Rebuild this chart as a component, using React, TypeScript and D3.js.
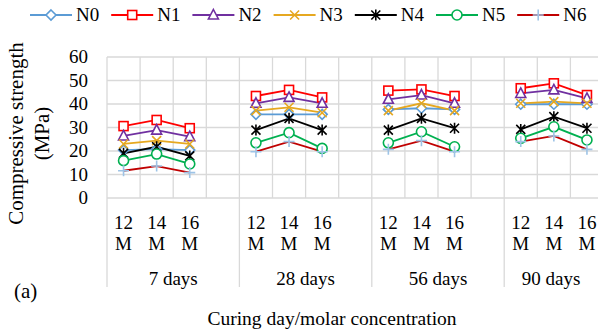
import React from "react";
import * as d3 from "d3";

const groups = ["7 days", "28 days", "56 days", "90 days"];
const molarities = ["12", "14", "16"];
const yTicks = [0, 10, 20, 30, 40, 50, 60];
const seriesNames = ["N0", "N1", "N2", "N3", "N4", "N5", "N6"];

const N0 = [20.4, 20.8, 20.4, 35.6, 35.6, 35.6, 37.7, 38.2, 37.7, 39.9, 39.9, 39.9];
const N1 = [30.6, 33.2, 29.7, 43.4, 46.0, 42.8, 45.7, 46.2, 43.4, 46.7, 48.8, 43.8];
const N2 = [26.4, 28.9, 26.1, 40.3, 42.8, 40.3, 42.0, 43.8, 40.3, 44.5, 46.0, 42.4];
const N3 = [23.0, 24.4, 23.0, 37.2, 38.6, 36.3, 37.2, 40.3, 37.2, 40.3, 41.0, 40.3];
const N4 = [19.0, 21.8, 17.9, 28.9, 33.9, 28.9, 28.9, 33.9, 29.7, 29.2, 34.6, 29.7];
const N5 = [15.9, 18.7, 14.5, 23.5, 27.8, 21.1, 23.5, 28.2, 21.8, 25.4, 30.3, 24.7];
const N6 = [11.6, 13.6, 10.8, 19.7, 24.0, 19.7, 20.7, 24.4, 19.7, 24.0, 26.4, 20.7];

const seriesValues = [N0, N1, N2, N3, N4, N5, N6];

const styles = [
  { line: "#5b9bd5", marker: "#5b9bd5", shape: "diamond" },
  { line: "#ff0000", marker: "#ff0000", shape: "square" },
  { line: "#7030a0", marker: "#7030a0", shape: "triangle" },
  { line: "#e6a820", marker: "#e6a820", shape: "x" },
  { line: "#000000", marker: "#000000", shape: "star" },
  { line: "#00b050", marker: "#00b050", shape: "circle" },
  { line: "#c00000", marker: "#9dc3e6", shape: "plus" },
];

const FONT = "Liberation Serif";
const GRID = "#d9d9d9";
const txt = { fontFamily: FONT };

function Marker({ shape, color, x, y }: { shape: string; color: string; x: number; y: number }) {
  const sw = 1.6;
  switch (shape) {
    case "diamond":
      return <path d={`M${x},${y - 5}L${x + 5},${y}L${x},${y + 5}L${x - 5},${y}Z`} fill="#fff" stroke={color} strokeWidth={sw} />;
    case "square":
      return <rect x={x - 4.5} y={y - 4.5} width={9} height={9} fill="#fff" stroke={color} strokeWidth={sw} />;
    case "triangle":
      return <path d={`M${x},${y - 5.5}L${x + 5},${y + 4}L${x - 5},${y + 4}Z`} fill="#fff" stroke={color} strokeWidth={sw} />;
    case "x":
      return <path d={`M${x - 4.5},${y - 4.5}L${x + 4.5},${y + 4.5}M${x - 4.5},${y + 4.5}L${x + 4.5},${y - 4.5}`} stroke={color} strokeWidth={sw} />;
    case "star":
      return <path d={`M${x - 4.5},${y - 4.5}L${x + 4.5},${y + 4.5}M${x - 4.5},${y + 4.5}L${x + 4.5},${y - 4.5}M${x},${y - 5.5}L${x},${y + 5.5}`} stroke={color} strokeWidth={sw} />;
    case "circle":
      return <circle cx={x} cy={y} r={5} fill="#fff" stroke={color} strokeWidth={sw} />;
    case "plus":
      return <path d={`M${x - 5.5},${y}L${x + 5.5},${y}M${x},${y - 5.5}L${x},${y + 5.5}`} stroke={color} strokeWidth={sw} />;
  }
  return null;
}

export default function App() {
  const W = 598, H = 332;
  const left = 107, slotW = 33.1;
  const slots: string[] = [];
  groups.forEach((g, gi) => {
    molarities.forEach((m) => slots.push(`${gi}-${m}`));
    slots.push(`${gi}-blank`);
  });
  const x = d3.scaleBand<string>().domain(slots).range([left, left + slots.length * slotW]).padding(0);
  const y = d3.scaleLinear().domain([0, 60]).range([198, 57]);
  const cx = (gi: number, mi: number) => (x(`${gi}-${molarities[mi]}`) as number) + x.bandwidth() / 2;

  const line = d3.line<{ x: number; y: number }>().x((d) => d.x).y((d) => d.y);

  const groupBounds = d3.range(groups.length + 1).map((i) => left + i * 4 * slotW);
  const groupLabelX = (gi: number) => (groupBounds[gi] + Math.min(groupBounds[gi + 1], W)) / 2;

  const legendX0 = 30, legendStep = 81.2, legendY = 15;

  return (
    <svg width={W} height={H} style={{ position: "fixed", left: 0, top: 0, background: "#fff" }}>
      <rect width={W} height={H} fill="#fff" />
      {yTicks.map((t) => (
        <line key={`h${t}`} x1={left} x2={left + slots.length * slotW} y1={y(t)} y2={y(t)} stroke={GRID} strokeWidth={1.3} />
      ))}
      {d3.range(slots.length + 1).map((i) => (
        <line key={`v${i}`} x1={left + i * slotW} x2={left + i * slotW} y1={y(60)} y2={y(0)} stroke={GRID} strokeWidth={1.3} />
      ))}
      {groupBounds.map((b, i) => (
        <line key={`g${i}`} x1={b} x2={b} y1={y(0)} y2={287} stroke={GRID} strokeWidth={1.3} />
      ))}
      {yTicks.map((t) => (
        <text key={`yt${t}`} x={88} y={y(t)} dy="0.34em" textAnchor="end" fontSize={19} fill="#000" style={txt}>
          {t}
        </text>
      ))}
      <text transform={`translate(23,${(y(0) + y(60)) / 2 + 6}) rotate(-90)`} textAnchor="middle" fontSize={21} fill="#000" style={txt}>
        <tspan x={0} dy={0}>Compressive strength</tspan>
        <tspan x={0} dy={26}>(MPa)</tspan>
      </text>
      {groups.map((g, gi) => (
        <g key={`cl${gi}`}>
          {molarities.map((m, mi) => (
            <text key={m} x={cx(gi, mi)} y={223} dy="0.34em" textAnchor="middle" fontSize={19} fill="#000" style={txt}>
              <tspan x={cx(gi, mi)}>{m}</tspan>
              <tspan x={cx(gi, mi)} dy={21}>M</tspan>
            </text>
          ))}
          <text x={groupLabelX(gi)} y={279} dy="0.34em" textAnchor="middle" fontSize={19} fill="#000" style={txt}>
            {g}
          </text>
        </g>
      ))}
      <text x={14} y={298} fontSize={21} fill="#000" style={txt}>(a)</text>
      <text x={332} y={318} dy="0.34em" textAnchor="middle" fontSize={19.5} fill="#000" style={txt}>
        Curing day/molar concentration
      </text>
      {seriesValues.map((vals, si) => {
        const st = styles[si];
        return (
          <g key={`s${si}`}>
            {groups.map((g, gi) => {
              const pts = molarities.map((m, mi) => ({ x: cx(gi, mi), y: y(vals[gi * 3 + mi]) }));
              return <path key={gi} d={line(pts) as string} fill="none" stroke={st.line} strokeWidth={1.8} />;
            })}
          </g>
        );
      })}
      {seriesValues.map((vals, si) => {
        const st = styles[si];
        return (
          <g key={`m${si}`}>
            {groups.map((g, gi) =>
              molarities.map((m, mi) => (
                <Marker key={`${gi}-${mi}`} shape={st.shape} color={st.marker} x={cx(gi, mi)} y={y(vals[gi * 3 + mi])} />
              ))
            )}
          </g>
        );
      })}
      {seriesNames.map((n, si) => {
        const lx = legendX0 + si * legendStep;
        const st = styles[si];
        return (
          <g key={`lg${n}`}>
            <line x1={lx} x2={lx + 42} y1={legendY} y2={legendY} stroke={st.line} strokeWidth={1.8} />
            <Marker shape={st.shape} color={st.marker} x={lx + 21} y={legendY} />
            <text x={lx + 46} y={legendY} dy="0.34em" fontSize={19} fill="#000" style={txt}>{n}</text>
          </g>
        );
      })}
    </svg>
  );
}
